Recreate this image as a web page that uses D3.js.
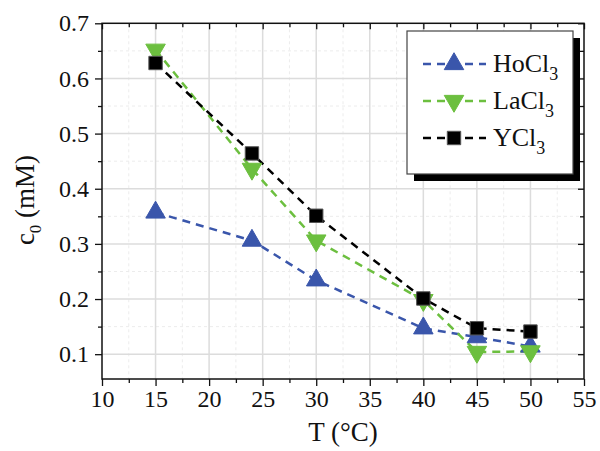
<!DOCTYPE html>
<html><head><meta charset="utf-8">
<script src="https://cdn.jsdelivr.net/npm/d3@7"></script>
<style>body{margin:0;background:#fff;} svg{display:block;}</style>
</head><body>
<svg id="c" width="600" height="451"></svg>
<script>
const temps = [15, 24, 30, 40, 45, 50];
const hoCl3 = [0.357, 0.306, 0.234, 0.147, 0.131, 0.114];
const laCl3 = [0.652, 0.436, 0.306, 0.198, 0.104, 0.105];
const yCl3  = [0.628, 0.464, 0.351, 0.201, 0.147, 0.141];
const seriesNames = ["HoCl", "LaCl", "YCl"];
const xTicks = [10, 15, 20, 25, 30, 35, 40, 45, 50, 55];
const yTicks = [0.1, 0.2, 0.3, 0.4, 0.5, 0.6, 0.7];

const svg = d3.select("#c");
const L = 102, R = 584, T = 23.3, B = 379;
const x = d3.scaleLinear().domain([10, 55]).range([L, R]);
const y = d3.scaleLinear().domain([0.055, 0.7]).range([B, T]);
const font = "'Liberation Serif', serif";

// grid
const g = svg.append("g");
const xMinor = d3.range(12.5, 55, 5);
const yMinor = d3.range(0.15, 0.7, 0.1);
g.selectAll(".xm").data(xMinor).join("line").attr("x1", d => x(d)).attr("x2", d => x(d))
  .attr("y1", T).attr("y2", B).attr("stroke", "#ececec").attr("stroke-width", 1).attr("stroke-dasharray", "3,3");
g.selectAll(".ym").data(yMinor).join("line").attr("y1", d => y(d)).attr("y2", d => y(d))
  .attr("x1", L).attr("x2", R).attr("stroke", "#ececec").attr("stroke-width", 1).attr("stroke-dasharray", "3,3");
g.selectAll(".xM").data(xTicks.slice(1, -1)).join("line").attr("x1", d => x(d)).attr("x2", d => x(d))
  .attr("y1", T).attr("y2", B).attr("stroke", "#dcdcdc").attr("stroke-width", 1.5);
g.selectAll(".yM").data(yTicks.slice(0, -1)).join("line").attr("y1", d => y(d)).attr("y2", d => y(d))
  .attr("x1", L).attr("x2", R).attr("stroke", "#dcdcdc").attr("stroke-width", 1.5);

// axes
const ax = svg.append("g").attr("transform", `translate(0,${B})`)
  .call(d3.axisBottom(x).tickValues(xTicks).tickSize(7).tickPadding(4).tickFormat(d3.format("d")));
const axm = svg.append("g").attr("transform", `translate(0,${B})`)
  .call(d3.axisBottom(x).tickValues(xMinor).tickSize(4).tickFormat(""));
const ay = svg.append("g").attr("transform", `translate(${L},0)`)
  .call(d3.axisLeft(y).tickValues(yTicks).tickSize(7).tickPadding(6).tickFormat(d3.format(".1f")));
const aym = svg.append("g").attr("transform", `translate(${L},0)`)
  .call(d3.axisLeft(y).tickValues(yMinor).tickSize(4).tickFormat(""));
const at = svg.append("g").attr("transform", `translate(0,${T})`)
  .call(d3.axisBottom(x).tickValues(xTicks).tickSize(6).tickFormat(""));
const atm = svg.append("g").attr("transform", `translate(0,${T})`)
  .call(d3.axisBottom(x).tickValues(xMinor).tickSize(4).tickFormat(""));
const ar = svg.append("g").attr("transform", `translate(${R},0)`)
  .call(d3.axisLeft(y).tickValues(yTicks).tickSize(6).tickFormat(""));
const arm = svg.append("g").attr("transform", `translate(${R},0)`)
  .call(d3.axisLeft(y).tickValues(yMinor).tickSize(4).tickFormat(""));
[ax, axm, ay, aym, at, atm, ar, arm].forEach(a => {
  a.select(".domain").remove();
  a.selectAll("line").attr("stroke", "#111").attr("stroke-width", 1.3);
  a.selectAll("text").attr("font-family", font).attr("font-size", 24).attr("fill", "#111");
});
svg.append("rect").attr("x", L).attr("y", T).attr("width", R - L).attr("height", B - T)
  .attr("fill", "none").attr("stroke", "#111").attr("stroke-width", 1.5);

// titles
svg.append("text").attr("x", (L + R) / 2).attr("y", 441).attr("text-anchor", "middle")
  .attr("font-family", font).attr("font-size", 27).attr("fill", "#111").text("T (°C)");
const yt = svg.append("text").attr("transform", "translate(34,200) rotate(-90)").attr("text-anchor", "middle")
  .attr("font-family", font).attr("font-size", 27).attr("fill", "#111");
yt.append("tspan").text("c");
yt.append("tspan").attr("font-size", 17).attr("dy", 7).text("0");
yt.append("tspan").attr("dy", -7).text(" (mM)");

// series
const colors = ["#3a56ab", "#6cbf3f", "#000000"];
const data = [hoCl3, laCl3, yCl3];
const shapes = [d3.symbolTriangle, d3.symbolTriangle, d3.symbolSquare];
const rot = [0, 180, 0];
const sizes = [165, 165, 180];
const line = d3.line().x((d, i) => x(temps[i])).y(d => y(d));
const plot = svg.append("g");
data.forEach((vals, k) => {
  plot.append("path").datum(vals).attr("d", line).attr("fill", "none")
    .attr("stroke", colors[k]).attr("stroke-width", 2.5).attr("stroke-dasharray", "8,6");
});
data.forEach((vals, k) => {
  plot.selectAll(".m" + k).data(vals).join("path")
    .attr("d", d3.symbol().type(shapes[k]).size(sizes[k]))
    .attr("transform", (d, i) => `translate(${x(temps[i])},${y(d)}) rotate(${rot[k]})`)
    .attr("fill", colors[k]).attr("stroke", k === 2 ? "#555" : colors[k]).attr("stroke-width", 1);
});

// legend
const lg = svg.append("g");
lg.append("rect").attr("x", 414).attr("y", 38).attr("width", 166).attr("height", 143).attr("fill", "#000");
lg.append("rect").attr("x", 407).attr("y", 31).attr("width", 166).attr("height", 143)
  .attr("fill", "#fff").attr("stroke", "#444").attr("stroke-width", 1.2);
const ly = [64, 101, 138];
seriesNames.forEach((nm, k) => {
  lg.append("line").attr("x1", 423).attr("x2", 486).attr("y1", ly[k]).attr("y2", ly[k])
    .attr("stroke", colors[k]).attr("stroke-width", 2.5).attr("stroke-dasharray", "8,6");
  lg.append("path").attr("d", d3.symbol().type(shapes[k]).size(sizes[k])())
    .attr("transform", `translate(454,${ly[k]}) rotate(${rot[k]})`)
    .attr("fill", colors[k]).attr("stroke", k === 2 ? "#555" : colors[k]).attr("stroke-width", 1);
  const t = lg.append("text").attr("x", 493).attr("y", ly[k] + 8)
    .attr("font-family", font).attr("font-size", 26).attr("fill", "#111");
  t.append("tspan").text(nm);
  t.append("tspan").attr("font-size", 18).attr("dy", 8).text("3");
});
</script>
</body></html>
